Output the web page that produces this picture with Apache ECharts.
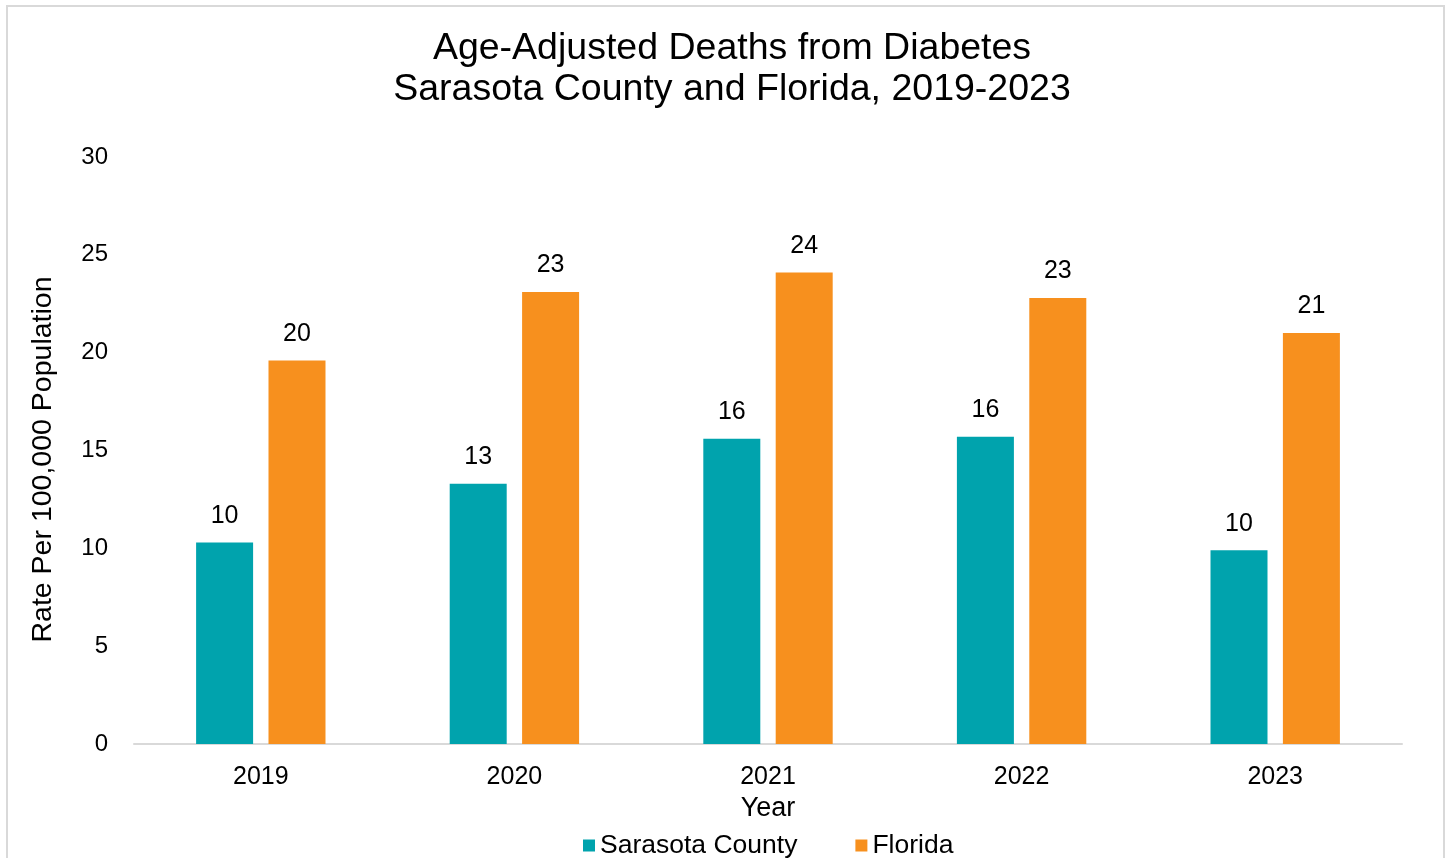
<!DOCTYPE html>
<html>
<head>
<meta charset="utf-8">
<script src="https://cdn.jsdelivr.net/npm/echarts@6/dist/echarts.min.js"></script>
<style>
html,body{margin:0;padding:0;background:#fff;}
#chart{width:1447px;height:858px;}
</style>
</head>
<body>
<div id="chart"></div>
<script>
const years = ['2019', '2020', '2021', '2022', '2023'];
const sarasota = [10.3, 13.3, 15.6, 15.7, 9.9];
const florida = [19.6, 23.1, 24.1, 22.8, 21.0];
const yTicks = [0, 5, 10, 15, 20, 25, 30];

const FONT = '"Liberation Sans", Arial, sans-serif';
const chart = echarts.init(document.getElementById('chart'));
chart.setOption({
  backgroundColor: '#fff',
  animation: false,
  title: {
    text: 'Age-Adjusted Deaths from Diabetes\nSarasota County and Florida, 2019-2023',
    left: 727, textAlign: 'center', top: 23,
    textStyle: { fontFamily: FONT, fontSize: 37.5, fontWeight: 'normal', color: '#000', lineHeight: 41 }
  },
  graphic: [{
    type: 'rect', silent: true,
    shape: { x: 7, y: 6, width: 1437, height: 900 },
    style: { fill: 'none', stroke: '#d9d9d9', lineWidth: 2 }
  }],
  legend: {
    left: 578, top: 827,
    itemWidth: 12, itemHeight: 12, itemGap: 58,
    icon: 'rect',
    textStyle: { fontFamily: FONT, fontSize: 26.5, color: '#000', padding: [0, 0, 0, 0] },
    data: ['Sarasota County', 'Florida']
  },
  grid: { left: 134, right: 45, top: 157, bottom: 114 },
  xAxis: {
    type: 'category', data: years,
    name: 'Year', nameLocation: 'middle', nameGap: 51,
    nameTextStyle: { fontFamily: FONT, fontSize: 27, color: '#000' },
    axisLine: { lineStyle: { color: '#d9d9d9', width: 2 } },
    axisTick: { show: false },
    axisLabel: { fontFamily: FONT, fontSize: 25, color: '#000', margin: 21 }
  },
  yAxis: {
    type: 'value', min: 0, max: 30, interval: 5,
    name: 'Rate Per 100,000 Population', nameLocation: 'middle', nameGap: 76,
    nameTextStyle: { fontFamily: FONT, fontSize: 28.5, color: '#000', padding: [0, 18, 0, 0] },
    axisLine: { show: false }, axisTick: { show: false },
    splitLine: { show: false },
    axisLabel: {
      fontFamily: FONT, fontSize: 24, color: '#000', margin: 26,
      formatter: v => yTicks.includes(v) ? String(v) : ''
    }
  },
  series: [
    {
      name: 'Sarasota County', type: 'bar', data: sarasota,
      barWidth: 57, barGap: '27%',
      itemStyle: { color: '#00A3AD' },
      label: { show: true, position: 'top', distance: 14, fontFamily: FONT, fontSize: 25, color: '#000',
        formatter: p => Math.round(p.value) }
    },
    {
      name: 'Florida', type: 'bar', data: florida,
      barWidth: 57,
      itemStyle: { color: '#F7901E' },
      label: { show: true, position: 'top', distance: 14, fontFamily: FONT, fontSize: 25, color: '#000',
        formatter: p => Math.round(p.value) }
    }
  ]
});
</script>
</body>
</html>
